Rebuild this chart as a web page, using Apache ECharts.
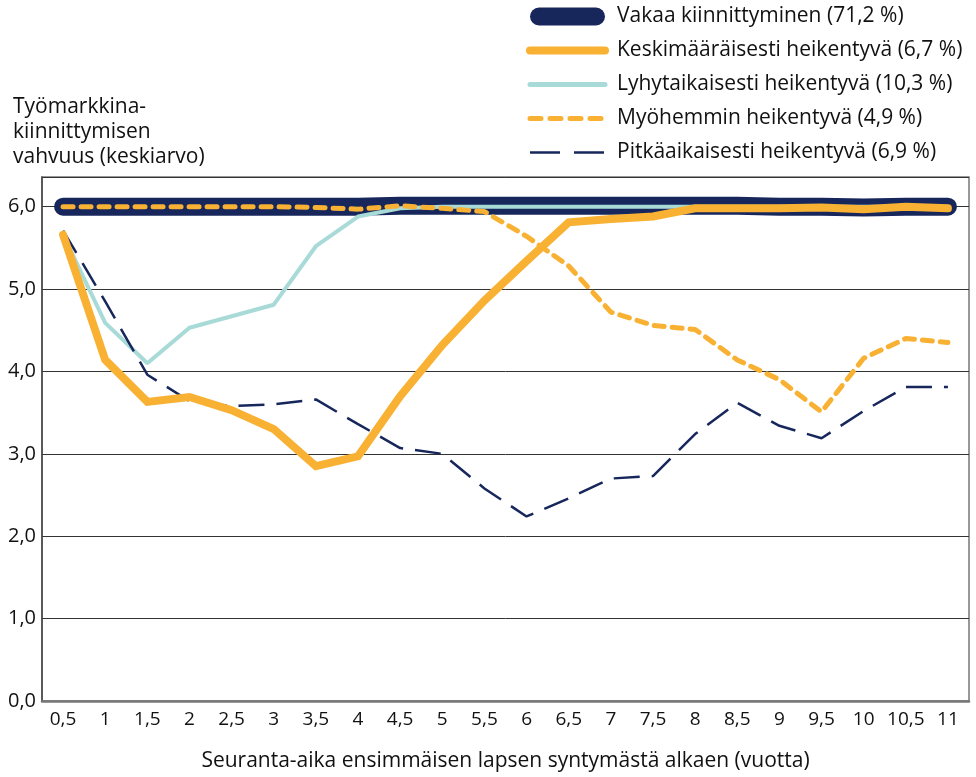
<!DOCTYPE html>
<html>
<head>
<meta charset="utf-8">
<script src="https://cdn.jsdelivr.net/npm/echarts@6/dist/echarts.min.js"></script>
<style>
  html, body { margin: 0; padding: 0; background: #fff; }
  #main { width: 976px; height: 777px; }
</style>
</head>
<body>
<div id="main"></div>
<script>
// follow-up time (years), shown with Finnish decimal comma
var years = ['0,5', '1', '1,5', '2', '2,5', '3', '3,5', '4', '4,5', '5', '5,5',
             '6', '6,5', '7', '7,5', '8', '8,5', '9', '9,5', '10', '10,5', '11'];

var vakaa = [6.0, 6.0, 6.0, 6.0, 6.0, 6.0, 6.0, 6.0, 6.01, 6.01, 6.01,
             6.01, 6.01, 6.01, 6.01, 6.01, 6.01, 6.0, 6.0, 5.99, 6.0, 6.0];
var keskimaar = [5.66, 4.14, 3.63, 3.69, 3.53, 3.30, 2.85, 2.97, 3.70, 4.32, 4.86,
                 5.34, 5.81, 5.85, 5.88, 5.98, 5.98, 5.98, 5.99, 5.97, 6.0, 5.98];
var lyhyt = [5.66, 4.59, 4.10, 4.53, 4.67, 4.81, 5.52, 5.88, 5.98, 6.0, 6.0,
             6.0, 6.0, 6.0, 6.0, 6.0, 6.0, 6.0, 6.0, 6.0, 6.0, 6.0];
var myohemmin = [6.0, 6.0, 6.0, 6.0, 6.0, 6.0, 5.99, 5.97, 6.01, 5.98, 5.94,
                 5.64, 5.28, 4.72, 4.56, 4.51, 4.14, 3.90, 3.51, 4.16, 4.40, 4.35];
var pitka = [5.71, 4.85, 3.96, 3.64, 3.58, 3.60, 3.66, 3.36, 3.07, 3.00, 2.58,
             2.24, 2.46, 2.70, 2.73, 3.24, 3.62, 3.34, 3.19, 3.52, 3.81, 3.81];

var names = ['Vakaa kiinnittyminen (71,2 %)', 'Keskimääräisesti heikentyvä (6,7 %)',
             'Lyhytaikaisesti heikentyvä (10,3 %)', 'Myöhemmin heikentyvä (4,9 %)',
             'Pitkäaikaisesti heikentyvä (6,9 %)'];

var navy = '#17275c';
var orange = '#f8b133';
var teal = '#a8dad8';
var font = 'Open Sans';

var chart = echarts.init(document.getElementById('main'));

// legend: capsule for the thick line, plain lines (no marker) for the rest
var noDot = { opacity: 0 };
var legendItems = [
  { name: names[0], icon: 'path://M9,0 L66,0 A9,9 0 0 1 66,18 L9,18 A9,9 0 0 1 9,0 Z', itemStyle: { color: navy } },
  { name: names[1], itemStyle: noDot, lineStyle: { width: 8, cap: 'round' } },
  { name: names[2], itemStyle: noDot, lineStyle: { width: 5, cap: 'round' } },
  { name: names[3], itemStyle: noDot, lineStyle: { width: 5, cap: 'round', type: [11, 9] } },
  { name: names[4], itemStyle: noDot, lineStyle: { width: 2.5, type: [30, 14] } }
];

chart.setOption({
  animation: false,
  textStyle: { fontFamily: font, color: '#111' },
  title: {
    text: 'Työmarkkina-\nkiinnittymisen\nvahvuus (keskiarvo)',
    left: 8,
    top: 90,
    textStyle: { fontFamily: font, fontSize: 21, fontWeight: 'normal', color: '#111', lineHeight: 25 }
  },
  legend: {
    orient: 'vertical',
    left: 526,
    top: 6,
    padding: 0,
    itemWidth: 75,
    itemHeight: 18,
    itemGap: 13,
    textStyle: { fontFamily: font, fontSize: 21, color: '#111', padding: [0, 0, 0, 7] },
    data: legendItems
  },
  grid: {
    left: 42,
    right: 7,
    top: 177,
    bottom: 70,
    show: true,
    borderColor: '#777',
    borderWidth: 1.5
  },
  xAxis: {
    type: 'category',
    data: years,
    boundaryGap: true,
    name: 'Seuranta-aika ensimmäisen lapsen syntymästä alkaen (vuotta)',
    nameLocation: 'middle',
    nameGap: 50,
    nameTextStyle: { fontFamily: font, fontSize: 21, color: '#111' },
    axisLine: { lineStyle: { color: '#777', width: 2.5 } },
    axisTick: { alignWithLabel: true, length: 6, lineStyle: { color: '#222' } },
    axisLabel: { fontFamily: font, fontSize: 19, color: '#111', margin: 9, interval: 0 }
  },
  yAxis: {
    type: 'value',
    min: 0,
    max: 6.36,
    interval: 1,
    axisLine: { show: true, lineStyle: { color: '#444', width: 1.5 } },
    axisTick: { show: false },
    axisLabel: {
      fontFamily: font, fontSize: 20, color: '#111', margin: 6, showMaxLabel: false,
      formatter: function (v) { return v.toFixed(1).replace('.', ','); }
    },
    splitLine: { lineStyle: { color: '#333', width: 1 } }
  },
  series: [
    {
      name: names[0], type: 'line', data: vakaa, symbol: 'none', z: 2,
      lineStyle: { color: navy, width: 18, cap: 'round', join: 'round' },
      itemStyle: { color: navy }
    },
    {
      name: names[1], type: 'line', data: keskimaar, symbol: 'none', z: 4,
      lineStyle: { color: orange, width: 8, cap: 'round', join: 'miter' },
      itemStyle: { color: orange }
    },
    {
      name: names[2], type: 'line', data: lyhyt, symbol: 'none', z: 3,
      lineStyle: { color: teal, width: 4 },
      itemStyle: { color: teal }
    },
    {
      name: names[3], type: 'line', data: myohemmin, symbol: 'none', z: 5,
      lineStyle: { color: orange, width: 5, type: [10, 8], cap: 'round' },
      itemStyle: { color: orange }
    },
    {
      name: names[4], type: 'line', data: pitka, symbol: 'none', z: 3,
      lineStyle: { color: navy, width: 2.5, type: [26, 12] },
      itemStyle: { color: navy }
    }
  ]
});
</script>
</body>
</html>
